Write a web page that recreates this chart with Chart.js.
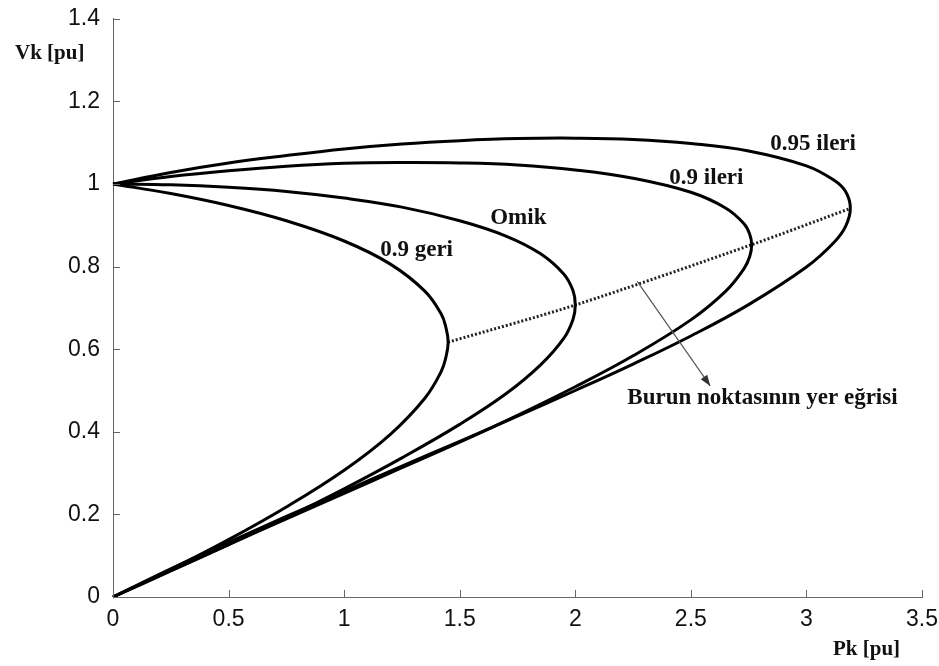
<!DOCTYPE html>
<html>
<head>
<meta charset="utf-8">
<script src="https://cdn.jsdelivr.net/npm/chart.js@4.4.0/dist/chart.umd.min.js"></script>
<style>
  html, body { margin: 0; padding: 0; background: #ffffff; }
  #c { display: block; }
</style>
</head>
<body>
<canvas id="c" width="939" height="666"></canvas>
<script>
// ---------- data ----------
const xTicks = [0, 0.5, 1, 1.5, 2, 2.5, 3, 3.5];
const xTickLabels = ['0', '0.5', '1', '1.5', '2', '2.5', '3', '3.5'];
const yTicks = [0, 0.2, 0.4, 0.6, 0.8, 1.0, 1.2, 1.4];
const yTickLabels = ['0', '0.2', '0.4', '0.6', '0.8', '1', '1.2', '1.4'];

const curveNames = ['0.9 geri', 'Omik', '0.9 ileri', '0.95 ileri'];
const xAxisTitle = 'Pk [pu]';
const yAxisTitle = 'Vk [pu]';
const locusName = 'Burun noktasının yer eğrisi';

// "0.9 geri"
const pGeri = [0, 0.25, 0.5, 0.75, 1.0, 1.2, 1.35, 1.42, 1.44, 1.45, 1.44, 1.42, 1.35, 1.2, 1.0, 0.75, 0.5, 0.25, 0];
const vGeri = [1.0, 0.977, 0.948, 0.911, 0.862, 0.806, 0.740, 0.685, 0.653, 0.617, 0.580, 0.546, 0.482, 0.394, 0.307, 0.218, 0.139, 0.067, 0];

// "Omik"
const pOmik = [0, 0.25, 0.5, 0.75, 1.0, 1.25, 1.5, 1.7, 1.85, 1.95, 1.99, 2.0, 1.99, 1.95, 1.85, 1.7, 1.5, 1.25, 1.0, 0.75, 0.5, 0.25, 0];
const vOmik = [1.0, 0.998, 0.992, 0.982, 0.966, 0.944, 0.911, 0.874, 0.831, 0.782, 0.742, 0.707, 0.672, 0.626, 0.562, 0.492, 0.418, 0.337, 0.262, 0.192, 0.127, 0.063, 0];

// "0.9 ileri"
const pIleri90 = [0, 0.25, 0.5, 0.75, 1.0, 1.25, 1.5, 1.75, 2.0, 2.25, 2.5, 2.65, 2.73, 2.755, 2.763, 2.755, 2.73, 2.65, 2.5, 2.25, 2.0, 1.75, 1.5, 1.25, 1.0, 0.75, 0.5, 0.25, 0];
const vIleri90 = [1.0, 1.018, 1.032, 1.043, 1.050, 1.052, 1.051, 1.046, 1.034, 1.014, 0.980, 0.942, 0.904, 0.878, 0.853, 0.825, 0.795, 0.740, 0.671, 0.584, 0.509, 0.440, 0.375, 0.313, 0.251, 0.189, 0.127, 0.064, 0];

// "0.95 ileri"
const pIleri95 = [0, 0.25, 0.5, 0.75, 1.0, 1.25, 1.5, 1.75, 2.0, 2.25, 2.5, 2.75, 3.0, 3.12, 3.17, 3.19, 3.17, 3.12, 3.0, 2.75, 2.5, 2.25, 2.0, 1.75, 1.5, 1.25, 1.0, 0.75, 0.5, 0.25, 0];
const vIleri95 = [1.0, 1.028, 1.051, 1.069, 1.085, 1.097, 1.105, 1.110, 1.111, 1.108, 1.098, 1.080, 1.044, 1.009, 0.981, 0.941, 0.898, 0.859, 0.799, 0.708, 0.632, 0.564, 0.500, 0.438, 0.377, 0.317, 0.256, 0.195, 0.132, 0.068, 0];

// nose-point locus (dotted)
const pLocus = [1.45, 2.0, 2.763, 3.19];
const vLocus = [0.617, 0.707, 0.853, 0.941];

// ---------- build datasets ----------
const toXY = (xs, ys) => xs.map((v, i) => ({ x: v, y: ys[i] }));

const curveStyle = {
  showLine: true, borderColor: '#000000', borderWidth: 3, pointRadius: 0,
  tension: 0.4, fill: false, clip: false
};

const datasets = [
  Object.assign({ label: curveNames[0], data: toXY(pGeri, vGeri) }, curveStyle),
  Object.assign({ label: curveNames[1], data: toXY(pOmik, vOmik) }, curveStyle),
  Object.assign({ label: curveNames[2], data: toXY(pIleri90, vIleri90) }, curveStyle),
  Object.assign({ label: curveNames[3], data: toXY(pIleri95, vIleri95) }, curveStyle),
  {
    label: locusName, data: toXY(pLocus, vLocus), showLine: true,
    borderColor: '#222222', borderWidth: 3, borderDash: [2, 2],
    pointRadius: 0, tension: 0.3, fill: false, clip: false
  }
];

// ---------- annotation layout (positions in data units) ----------
const labelFont = 'bold 23px "Liberation Serif", "Times New Roman", serif';
const curveLabelAnchors = [
  { text: curveNames[0], x: 1.156, y: 0.825 },
  { text: curveNames[1], x: 1.632, y: 0.902 },
  { text: curveNames[2], x: 2.407, y: 1.000 },
  { text: curveNames[3], x: 2.844, y: 1.082 },
  { text: locusName,     x: 2.225, y: 0.467 }
];
const arrowFrom = { x: 2.268, y: 0.764 };
const arrowTo   = { x: 2.584, y: 0.511 };

const overlay = {
  id: 'overlay',
  afterDatasetsDraw(chart) {
    const { ctx, chartArea: a } = chart;
    const xs = chart.scales.x, ys = chart.scales.y;
    ctx.save();
    // inward tick marks
    ctx.strokeStyle = '#666666';
    ctx.lineWidth = 1;
    ctx.beginPath();
    xTicks.forEach(v => {
      const px = Math.round(xs.getPixelForValue(v)) + 0.5;
      ctx.moveTo(px, a.bottom);
      ctx.lineTo(px, a.bottom - 7);
    });
    yTicks.forEach(v => {
      const py = Math.round(ys.getPixelForValue(v)) + 0.5;
      ctx.moveTo(a.left, py);
      ctx.lineTo(a.left + 7, py);
    });
    ctx.stroke();

    // arrow
    const x1 = xs.getPixelForValue(arrowFrom.x), y1 = ys.getPixelForValue(arrowFrom.y);
    const x2 = xs.getPixelForValue(arrowTo.x), y2 = ys.getPixelForValue(arrowTo.y);
    ctx.strokeStyle = '#555555';
    ctx.fillStyle = '#333333';
    ctx.lineWidth = 1.2;
    ctx.beginPath();
    ctx.moveTo(x1, y1);
    ctx.lineTo(x2, y2);
    ctx.stroke();
    const ang = Math.atan2(y2 - y1, x2 - x1);
    const hl = 11, hw = 4;
    ctx.beginPath();
    ctx.moveTo(x2, y2);
    ctx.lineTo(x2 - hl * Math.cos(ang) + hw * Math.sin(ang), y2 - hl * Math.sin(ang) - hw * Math.cos(ang));
    ctx.lineTo(x2 - hl * Math.cos(ang) - hw * Math.sin(ang), y2 - hl * Math.sin(ang) + hw * Math.cos(ang));
    ctx.closePath();
    ctx.fill();

    // curve labels
    ctx.fillStyle = '#111111';
    ctx.font = labelFont;
    ctx.textAlign = 'left';
    ctx.textBaseline = 'alphabetic';
    curveLabelAnchors.forEach(l => {
      ctx.fillText(l.text, xs.getPixelForValue(l.x), ys.getPixelForValue(l.y));
    });

    // axis titles
    ctx.font = 'bold 21px "Liberation Serif", "Times New Roman", serif';
    ctx.fillText(yAxisTitle, a.left - 98, a.top + 40);
    ctx.fillText(xAxisTitle, a.right - 89, a.bottom + 58);
    ctx.restore();
  }
};

const tickFont = { family: '"Liberation Sans", Arial, sans-serif', size: 23 };

new Chart(document.getElementById('c'), {
  type: 'scatter',
  data: { datasets },
  options: {
    responsive: false,
    devicePixelRatio: 1,
    animation: false,
    layout: { padding: { left: 0, top: 17, right: 17, bottom: 0 } },
    plugins: { legend: { display: false }, tooltip: { enabled: false } },
    scales: {
      x: {
        type: 'linear', min: 0, max: 3.5,
        afterBuildTicks: s => { s.ticks = xTicks.map(v => ({ value: v })); },
        afterFit: s => { s.height = 69; },
        grid: { display: false },
        border: { display: true, color: '#666666', width: 1 },
        ticks: {
          autoSkip: false, maxRotation: 0, padding: 1,
          color: '#111111', font: tickFont,
          callback: (v, i) => xTickLabels[i]
        }
      },
      y: {
        type: 'linear', min: 0, max: 1.4,
        afterBuildTicks: s => { s.ticks = yTicks.map(v => ({ value: v })); },
        afterFit: s => { s.width = 113; },
        grid: { display: false },
        border: { display: true, color: '#666666', width: 1 },
        ticks: {
          autoSkip: false, padding: 5,
          color: '#111111', font: tickFont,
          callback: (v, i) => yTickLabels[i]
        }
      }
    }
  },
  plugins: [overlay]
});
</script>
</body>
</html>
